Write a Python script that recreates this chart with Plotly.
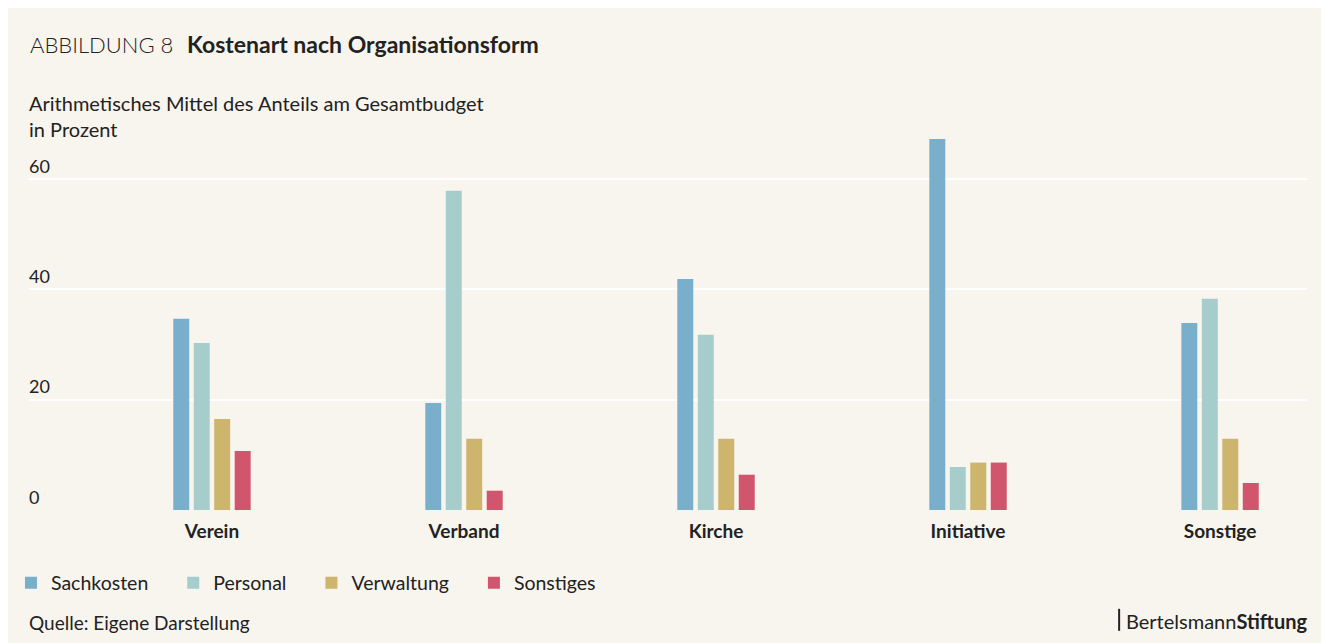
import plotly.graph_objects as go

categories = ["Verein", "Verband", "Kirche", "Initiative", "Sonstige"]
series_names = ["Sachkosten", "Personal", "Verwaltung", "Sonstiges"]
sachkosten = [34.7, 19.4, 41.9, 67.3, 33.9]
personal = [30.3, 57.9, 31.8, 7.8, 38.3]
verwaltung = [16.5, 12.9, 12.9, 8.6, 12.9]
sonstiges = [10.7, 3.5, 6.4, 8.6, 4.9]
y_ticks = [0, 20, 40, 60]

colors = ["#79afca", "#a6cdcc", "#cdb56e", "#d1556c"]
bg = "#f8f5ee"
font = "Lato"

fig = go.Figure()
for name, vals, col in zip(series_names, [sachkosten, personal, verwaltung, sonstiges], colors):
    # trailing spaces widen the gap between legend entries
    fig.add_trace(go.Bar(x=categories, y=vals, name=name + "\u00a0" * 4,
                         marker=dict(color=col, line=dict(width=0))))

# small divider before the logo text
fig.add_shape(type="line", xref="paper", yref="paper", x0=0.853, x1=0.853, y0=-0.256, y1=-0.313,
              line=dict(color="#222", width=2))

fig.add_annotation(x=-0.0008, y=1.207, xref="paper", yref="paper", xanchor="left", yanchor="middle",
                   showarrow=False, font=dict(family=font, size=22, color="#222", weight=300),
                   text="ABBILDUNG 8")
fig.add_annotation(x=0.1222, y=1.207, xref="paper", yref="paper", xanchor="left", yanchor="middle",
                   showarrow=False, font=dict(family=font, size=23, color="#222", weight="bold"),
                   text="Kostenart nach Organisationsform")
fig.add_annotation(x=-0.0015, y=1.021, xref="paper", yref="paper", xanchor="left", yanchor="middle",
                   showarrow=False, align="left", font=dict(family=font, size=20, color="#222"),
                   text="Arithmetisches Mittel des Anteils am Gesamtbudget<br>in Prozent")
fig.add_annotation(x=-0.0015, y=-0.291, xref="paper", yref="paper", xanchor="left", yanchor="middle",
                   showarrow=False, font=dict(family=font, size=19, color="#222"),
                   text="Quelle: Eigene Darstellung")
fig.add_annotation(x=1.0025, y=-0.288, xref="paper", yref="paper", xanchor="right", yanchor="middle",
                   showarrow=False, font=dict(family=font, size=20, color="#222"),
                   text="Bertelsmann<b>Stiftung</b>")

fig.update_layout(
    width=1329, height=643,
    margin=dict(l=21, r=30, t=116, b=141, autoexpand=False),
    paper_bgcolor=bg, plot_bgcolor=bg,
    font=dict(family=font, size=19, color="#222"),
    barmode="group", bargap=0.675, bargroupgap=0.22,
    showlegend=True,
    legend=dict(orientation="h", x=-0.0141, y=-0.189, xanchor="left", yanchor="middle",
                font=dict(family=font, size=19.5, color="#222"), bgcolor="rgba(0,0,0,0)",
                traceorder="normal"),
    xaxis=dict(range=[-0.726, 4.345], showgrid=False, zeroline=False, showline=False, ticks="",
               automargin=False,
               tickfont=dict(family=font, size=19, color="#222", weight="bold"), ticklabelstandoff=8),
    yaxis=dict(range=[0, 70], tickvals=y_ticks, ticktext=[str(v) for v in y_ticks],
               showgrid=True, gridcolor="white", gridwidth=2, zeroline=False, showline=False,
               automargin=False, ticklabelstandoff=-3,
               ticklabelposition="inside top", tickfont=dict(family=font, size=18, color="#222")),
)

fig.write_html("out.html")
